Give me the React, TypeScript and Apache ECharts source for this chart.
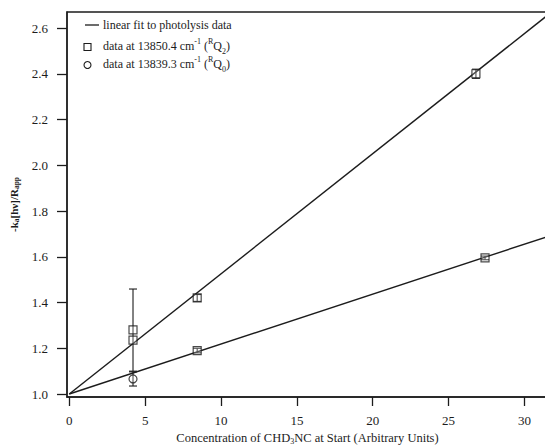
import React, { useEffect, useRef } from "react";
import * as echarts from "echarts";

// x tick positions and y tick positions
const xTicks = [0, 5, 10, 15, 20, 25, 30];
const yTicks = [1.0, 1.2, 1.4, 1.6, 1.8, 2.0, 2.2, 2.4, 2.6];

// linear fits (end points)
const fitUpper: [number, number][] = [[0, 1.0], [31.6, 2.66]];
const fitLower: [number, number][] = [[0, 1.0], [31.6, 1.69]];

// square markers [x, y]
const squarePts: [number, number][] = [
  [4.2, 1.28],
  [4.2, 1.236],
  [8.43, 1.42],
  [26.8, 2.40],
  [8.43, 1.19],
  [27.4, 1.595],
];
// circle markers
const circlePts: [number, number][] = [[4.2, 1.066]];

// error bars [x, low, high]
const errBars: [number, number, number][] = [
  [4.2, 1.10, 1.459],
  [4.2, 1.035, 1.097],
  [26.8, 2.38, 2.42],
  [8.43, 1.405, 1.435],
  [8.43, 1.18, 1.20],
  [27.4, 1.587, 1.603],
];

const FONT = '"Liberation Serif", "DejaVu Serif", serif';
const INK = "#1c1c1c";

export default function App() {
  const ref = useRef<HTMLDivElement>(null);
  useEffect(() => {
    document.body.style.margin = "0";
    const chart = echarts.init(ref.current!, null, { renderer: "svg" });
    const option: any = {
      animation: false,
      backgroundColor: "#ffffff",
      grid: {
        left: 67, top: 12, right: -3, bottom: 48,
        containLabel: false, outerBoundsMode: "none",
        show: true, borderColor: INK, borderWidth: 1.3,
      },
      xAxis: {
        type: "value",
        min: -0.15,
        max: 31.55,
        splitLine: { show: false },
        axisLine: { show: true, onZero: false, lineStyle: { color: INK, width: 1.5 } },
        axisTick: { show: true, length: 9, customValues: xTicks, lineStyle: { color: INK, width: 1.3 } },
        axisLabel: { customValues: xTicks, color: INK, fontFamily: FONT, fontSize: 13, margin: 17 },
        name: "{a|Concentration of CHD}{sub|3}{a|NC at Start (Arbitrary Units)}",
        nameLocation: "middle",
        nameGap: 32,
        nameTextStyle: {
          color: INK,
          fontFamily: FONT,
          rich: {
            a: { fontFamily: FONT, fontSize: 12.5, color: INK, lineHeight: 15 },
            sub: { fontFamily: FONT, fontSize: 8, color: INK, lineHeight: 8, verticalAlign: "bottom" },
          },
        },
      },
      yAxis: {
        type: "value",
        min: 0.987,
        max: 2.67,
        splitLine: { show: false },
        axisLine: { show: true, onZero: false, lineStyle: { color: INK, width: 1.5 } },
        axisTick: { show: true, length: 10, customValues: yTicks, lineStyle: { color: INK, width: 1.3 } },
        axisLabel: {
          customValues: yTicks,
          color: INK,
          fontFamily: FONT,
          fontSize: 13,
          margin: 19,
          formatter: (v: number) => v.toFixed(1),
        },
        name: "{a|-k}{sub|a}{a|[hν]/R}{sub|app}",
        nameLocation: "middle",
        nameRotate: 90,
        nameGap: 41,
        nameTextStyle: {
          rich: {
            a: { fontFamily: FONT, fontSize: 11, fontWeight: "bold", color: INK, lineHeight: 14 },
            sub: { fontFamily: FONT, fontSize: 7.5, fontWeight: "bold", color: INK, lineHeight: 7, verticalAlign: "bottom" },
          },
        },
      },
      series: [
        {
          type: "line",
          data: fitUpper,
          showSymbol: false,
          lineStyle: { color: INK, width: 1.4 },
          z: 2,
        },
        {
          type: "line",
          data: fitLower,
          showSymbol: false,
          lineStyle: { color: INK, width: 1.4 },
          z: 2,
        },
        {
          type: "custom",
          data: errBars,
          z: 3,
          renderItem: (params: any, api: any) => {
            const x = api.value(0);
            const top = api.coord([x, api.value(2)]);
            const bot = api.coord([x, api.value(1)]);
            const hw = 4;
            const st = { stroke: INK, lineWidth: 1.1 };
            return {
              type: "group",
              children: [
                { type: "line", shape: { x1: top[0], y1: top[1], x2: bot[0], y2: bot[1] }, style: st },
                { type: "line", shape: { x1: top[0] - hw, y1: top[1], x2: top[0] + hw, y2: top[1] }, style: st },
                { type: "line", shape: { x1: bot[0] - hw, y1: bot[1], x2: bot[0] + hw, y2: bot[1] }, style: st },
              ],
            };
          },
        },
        {
          type: "scatter",
          data: squarePts,
          symbol: "rect",
          symbolSize: 8,
          itemStyle: { color: "rgba(255,255,255,0.3)", borderColor: INK, borderWidth: 1.2 },
          z: 4,
        },
        {
          type: "scatter",
          data: circlePts,
          symbol: "circle",
          symbolSize: 8,
          itemStyle: { color: "rgba(255,255,255,0.3)", borderColor: INK, borderWidth: 1.2 },
          z: 4,
        },
      ],
      graphic: [
        { type: "line", shape: { x1: 85, y1: 25, x2: 99, y2: 25 }, style: { stroke: INK, lineWidth: 1.3 } },
        { type: "rect", shape: { x: 84, y: 43.5, width: 7, height: 7 }, style: { fill: "none", stroke: INK, lineWidth: 1.1 } },
        { type: "circle", shape: { cx: 87.5, cy: 65, r: 3.5 }, style: { fill: "none", stroke: INK, lineWidth: 1.1 } },
        {
          type: "text",
          x: 103,
          y: 25,
          style: { text: "linear fit to photolysis data", fontFamily: FONT, fontSize: 12, fill: INK, verticalAlign: "middle" },
        },
        {
          type: "text",
          x: 103,
          y: 46,
          style: {
            text: "{a|data at 13850.4 cm}{sup|-1}{a| (}{sup|R}{a|Q}{sub|2}{a|)}",
            verticalAlign: "middle",
            rich: {
              a: { fontFamily: FONT, fontSize: 12, fill: INK, lineHeight: 18 },
              sup: { fontFamily: FONT, fontSize: 8, fill: INK, lineHeight: 8, verticalAlign: "top" },
              sub: { fontFamily: FONT, fontSize: 8, fill: INK, lineHeight: 8, verticalAlign: "bottom" },
            },
          },
        },
        {
          type: "text",
          x: 103,
          y: 64,
          style: {
            text: "{a|data at 13839.3 cm}{sup|-1}{a| (}{sup|R}{a|Q}{sub|0}{a|)}",
            verticalAlign: "middle",
            rich: {
              a: { fontFamily: FONT, fontSize: 12, fill: INK, lineHeight: 18 },
              sup: { fontFamily: FONT, fontSize: 8, fill: INK, lineHeight: 8, verticalAlign: "top" },
              sub: { fontFamily: FONT, fontSize: 8, fill: INK, lineHeight: 8, verticalAlign: "bottom" },
            },
          },
        },
      ],
    };
    chart.setOption(option);
    return () => chart.dispose();
  }, []);
  return <div ref={ref} style={{ position: "fixed", left: 0, top: 0, width: 545, height: 445 }} />;
}
